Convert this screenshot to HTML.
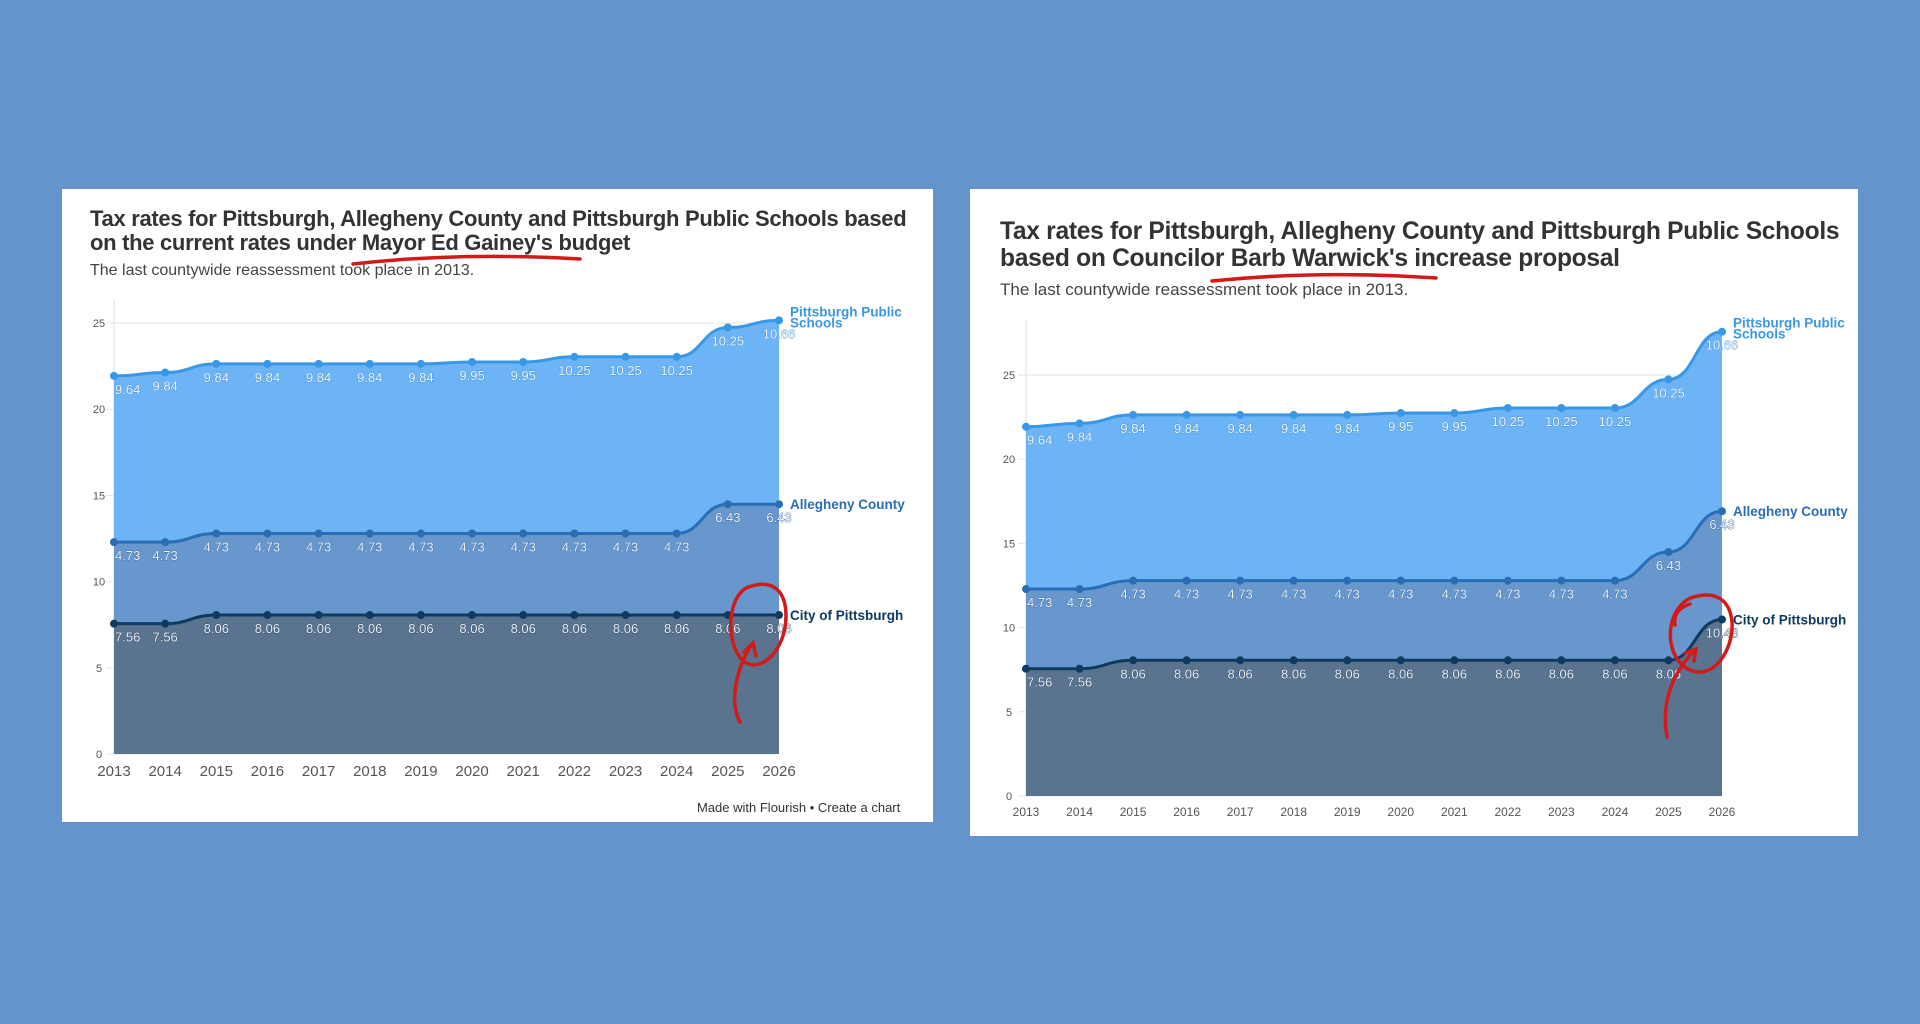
<!DOCTYPE html>
<html><head><meta charset="utf-8">
<style>
html,body{margin:0;padding:0;width:1920px;height:1024px;background:#6394cc;overflow:hidden;font-family:"Liberation Sans",sans-serif;}
.card{position:absolute;background:#fff;}
.title{position:absolute;font-weight:bold;font-size:22px;line-height:24px;color:#333;letter-spacing:-0.3px;white-space:nowrap}
.sub{position:absolute;font-size:16px;color:#444}
svg{position:absolute;left:0;top:0}
</style></head>
<body>
<div class="card" style="left:62px;top:189px;width:871px;height:633px"></div>
<div class="card" style="left:970px;top:189px;width:888px;height:647px"></div>
<div class="title" style="left:90px;top:207px">Tax rates for Pittsburgh, Allegheny County and Pittsburgh Public Schools based<br>on the current rates under Mayor Ed Gainey's budget</div>
<div class="sub" style="left:90px;top:262px">The last countywide reassessment took place in 2013.</div>
<div class="title" style="left:1000px;top:218px;line-height:27px;font-size:24.6px">Tax rates for Pittsburgh, Allegheny County and Pittsburgh Public Schools<br>based on Councilor Barb Warwick's increase proposal</div>
<div class="sub" style="left:1000px;top:280px;font-size:17px">The last countywide reassessment took place in 2013.</div>
<div class="sub" style="left:697px;top:800px;font-size:13px;color:#333">Made with Flourish • Create a chart</div>
<svg id="chart" width="1920" height="1024"></svg>
<script>
const years = [2013,2014,2015,2016,2017,2018,2019,2020,2021,2022,2023,2024,2025,2026];
const cityLeft = [7.56,7.56,8.06,8.06,8.06,8.06,8.06,8.06,8.06,8.06,8.06,8.06,8.06,8.06];
const cityRight = [7.56,7.56,8.06,8.06,8.06,8.06,8.06,8.06,8.06,8.06,8.06,8.06,8.06,10.48];
const county = [4.73,4.73,4.73,4.73,4.73,4.73,4.73,4.73,4.73,4.73,4.73,4.73,6.43,6.43];
const schools = [9.64,9.84,9.84,9.84,9.84,9.84,9.84,9.95,9.95,10.25,10.25,10.25,10.25,10.66];
const yTicks = [0,5,10,15,20,25];
const seriesNames = ["City of Pittsburgh","Allegheny County","Pittsburgh Public Schools"];

const NS="http://www.w3.org/2000/svg";
const svg=document.getElementById('chart');
function mk(tag,attrs,parent){const e=document.createElementNS(NS,tag);for(const k in attrs)e.setAttribute(k,attrs[k]);(parent||svg).appendChild(e);return e;}

function drawChart(prefix,city,box){
  const g=mk('g',{});
  
  
  const x=i=>box.x0+(box.x1-box.x0)*(years[i]-years[0])/(years[years.length-1]-years[0]);
  const y=v=>box.y0-(box.y0-box.y25)*v/25;
  yTicks.forEach(t=>{
    const l=mk('line',{x1:box.x0-8,x2:box.x1,y1:y(t),y2:y(t),stroke:'#e6e6e6','stroke-width':1},g);
    
    
    const tx=mk('text',{x:box.tx,y:y(t)+4,'font-size':11,fill:'#555','text-anchor':'middle'},g);
    tx.textContent=t;
    
    
  });
  const ax=mk('line',{x1:box.x0,x2:box.x0,y1:box.y0,y2:box.ytop,stroke:'#ddd'},g);
  
  
  const stacks=[city,city.map((v,i)=>v+county[i]),city.map((v,i)=>v+county[i]+schools[i])];
  const raw=[city,county,schools];
  const fills=['#5a7490','#6897cd','#6cb4f6'];
  const strokes=['#0e3a62','#2a6db5','#3898e6'];
  const textFill=['#eef2f6','#eef4fb','#f0f8ff'];
  const textStroke=['#203f60','#2d5f98','#3b86cc'];
  function pathFor(vals){
    let d=`M${x(0)},${y(vals[0])}`;
    for(let i=1;i<vals.length;i++){const mx=(x(i-1)+x(i))/2;d+=` C${mx},${y(vals[i-1])} ${mx},${y(vals[i])} ${x(i)},${y(vals[i])}`;}
    return d;
  }
  for(let s=2;s>=0;s--){
    const a=mk('path',{d:pathFor(stacks[s])+` L${x(years.length-1)},${y(0)} L${x(0)},${y(0)} Z`,fill:fills[s]},g);
    
    
  }
  for(let s=0;s<3;s++){
    const l=mk('path',{d:pathFor(stacks[s]),fill:'none',stroke:strokes[s],'stroke-width':3},g);
    
    
    stacks[s].forEach((v,i)=>{
      const c=mk('circle',{cx:x(i),cy:y(v),r:4,fill:strokes[s]},g);
      
      
      const t=mk('text',{x:i===0?x(i)+1:x(i),y:y(v)+18,'font-size':13,fill:textFill[s],stroke:textStroke[s],'stroke-width':0.7,'text-anchor':i===0?'start':'middle','paint-order':'stroke'},g);
      t.textContent=raw[s][i].toFixed(2);
      
      
    });
    const last=stacks[s][stacks[s].length-1];
    const lab=mk('text',{x:box.x1+11,y:y(last)+(s===2?-4:5),'font-size':13.5,'font-weight':'bold',fill:strokes[s]},g);
    
    
    if(s===2){
      const t1=mk('tspan',{x:box.x1+11},lab);t1.textContent='Pittsburgh Public';
      const t2=mk('tspan',{x:box.x1+11,dy:11},lab);t2.textContent='Schools';
    } else lab.textContent=seriesNames[s];
  }
  years.forEach((yr,i)=>{
    const t=mk('text',{x:x(i),y:box.xl,'font-size':box.xfs,fill:'#555','text-anchor':'middle'},g);
    t.textContent=yr;
    
    
  });
}
drawChart('left',cityLeft,{x0:114,x1:779,y0:754,y25:323,ytop:300,tx:99,xl:776,xfs:15});
drawChart('right',cityRight,{x0:1026,x1:1722,y0:796,y25:375,ytop:320,tx:1009,xl:816,xfs:12});

const red={fill:'none',stroke:'#d11a1a','stroke-width':3.5,'stroke-linecap':'round'};
[
 ['left-underline','M353,264 Q460,252 580,259'],
 ['left-circle','M752,586 C728,590 724,640 742,660 C760,676 786,650 786,616 C786,590 772,580 752,586'],
 ['left-arrow','M740,722 C728,700 738,665 752,644 M744,652 L753,643 L756,656'],
 ['right-underline','M1212,281 Q1320,270 1436,278'],
 ['right-circle','M1698,596 C1668,600 1660,650 1686,668 C1712,684 1734,650 1732,622 C1730,600 1716,592 1698,596'],
 ['right-arrow','M1667,737 C1660,700 1675,670 1695,650 M1685,653 L1696,649 L1694,661 M1675,625 C1673,613 1681,607 1690,604']
].forEach(([n,d])=>{
  const p=mk('path',Object.assign({d:d},red));
  
  
});
</script>
</body></html>
